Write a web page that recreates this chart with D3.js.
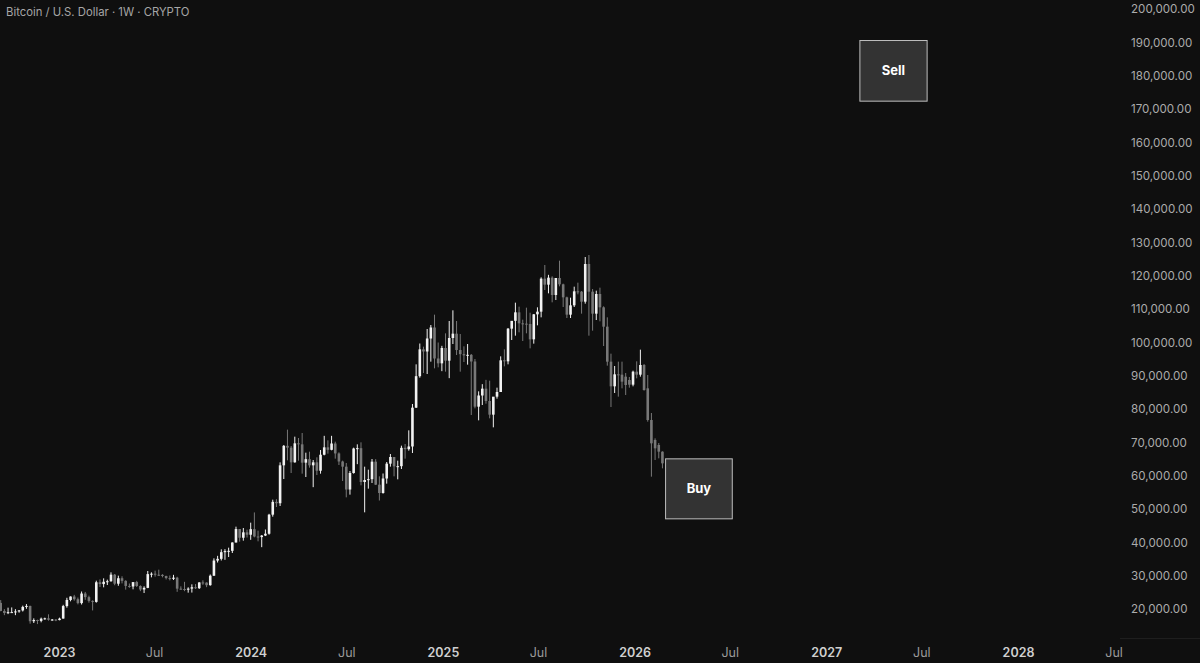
<!DOCTYPE html>
<html>
<head>
<meta charset="utf-8">
<script src="https://cdn.jsdelivr.net/npm/d3@7/dist/d3.min.js"></script>
<style>
  html, body { margin: 0; padding: 0; background: #0f0f0f; }
  svg { display: block; }
</style>
</head>
<body>
<svg id="chart" width="1200" height="663"></svg>
<script>
// ---------- DATA ----------
const title = "Bitcoin / U.S. Dollar · 1W · CRYPTO";
const firstWeek = "2022-09-12"; // weekly candles, consecutive weeks from here

const opens = [
21830,19420,18800,19050,19070,19270,19570,20630,20920,16330,16700,16430,17100,17200,16780,16840,
16680,17130,20880,22710,23740,22930,21770,24640,23560,22430,22130,28020,27480,28170,28330,30300,27590,29230,28440,26920,26750,28080,26900,25850,26340,30470,30590,30280,30240,29900,29280,29050,29400,26100,26000,25800,26110,26530,26250,27970,27920,27150,29990,34530,35050,37050,37380,37450,39950,43990,41380,43000,
42280,43950,41750,41580,42030,42580,48300,52140,51730,63100,68950,68400,64000,69700,69400,63900,64950,63100,64000,61480,66280,68500,67750,69650,66670,64250,62700,55850,60800,68150,68250,58100,58700,58950,64200,57300,54800,59150,63600,65600,62800,62850,68350,67950,68750,80400,89850,97900,97250,101150,104450,95150,93700,
98300,94500,101300,102600,97700,96450,96100,96250,94250,80700,84050,86100,82400,78300,83700,85100,94600,94300,104100,106450,109000,105700,105600,105500,100900,108400,109200,119100,117300,119400,114200,119300,117400,113500,108300,111100,115300,115200,112200,123500,115200,108600,114500,110500,104700,94200,86800,90400,90300,89700,88700,87300,
91200,90300,93200,86200,76700,70700,69200,67200
];
const highs = [
22680,19950,20400,20470,19950,19700,21000,21480,21000,17190,16800,17420,17400,18400,17000,16950,
17400,21250,23370,23800,24240,23430,25250,25120,24000,22600,28500,28870,29200,28800,31000,30500,30000,29820,28630,27650,27500,28440,27100,26800,31400,31000,31500,31800,30440,29990,30050,30250,29660,26800,28150,26500,27400,27480,28050,28600,27990,30350,35200,35950,37900,37950,38400,40000,44700,44000,44300,43800,
45900,48970,43500,42200,43850,48550,52800,52950,64000,69200,73800,68900,71700,71300,72800,66900,67200,64700,65500,67700,71950,70600,71950,70200,67000,64500,63800,61400,68400,69400,70000,62700,61800,65000,64950,59800,60650,64100,66500,65600,64500,69000,69500,73600,81500,93400,99650,98700,104000,105200,108300,99950,98950,
102700,106400,109600,106400,102500,98800,99500,96500,95000,85300,87450,88750,88500,83600,86400,95800,97900,104300,105800,111900,110700,106800,110400,108900,108500,110500,119500,123200,120250,119800,119300,124500,117600,113700,113400,116700,117900,115400,125600,126200,116000,115500,116400,110800,107500,96600,92900,94200,94200,90800,89600,91500,
94300,97800,93500,90200,78800,71200,69800,67300
];
const lows = [
19320,18150,18470,19000,18150,18900,19250,20060,15600,15800,15480,16000,16800,16500,16500,16350,
16600,17100,20400,22300,22500,21400,21350,22760,21900,19570,21900,26600,26500,27200,28170,27130,26970,27680,25810,26360,25900,26600,25350,24800,26250,29500,29700,29950,29500,28860,28580,28700,25150,25800,25350,24900,24930,26000,26000,27250,26550,26980,29900,33950,34550,34750,35600,36800,39950,40200,40500,41450,
40750,41500,40300,38550,41880,42300,47700,50600,50900,59000,64600,60800,63900,64500,60600,59600,62400,56550,60200,60600,66100,66600,67600,65100,63200,58400,53500,54300,60600,63450,57100,49000,56100,57800,57200,52550,54600,57600,62700,59800,58900,62000,65100,67500,66800,80300,89400,90800,90500,94200,92200,92500,91350,
91200,89250,99500,96200,91200,94100,93300,78200,80200,76600,81200,81600,77200,74500,83100,85100,92800,93400,100700,102000,103000,100400,102700,98200,99600,105100,107500,115700,114700,112000,112700,116800,110600,107300,107300,110600,114400,108600,111600,102000,103500,106700,106300,98900,93000,80600,84800,83700,86200,84200,86400,86800,
89200,89700,85500,76200,59700,64700,65200,62200
];
const closes = [
19420,18800,19050,19070,19270,19570,20630,20920,16330,16700,16430,17100,17200,16780,16840,16680,
17130,20880,22710,23740,22930,21770,24640,23560,22430,22130,28020,27480,28170,28330,30300,27590,29230,28440,26920,26750,28080,26900,25850,26340,30470,30590,30280,30240,29900,29280,29050,29400,26100,26000,25800,26110,26530,26250,27970,27920,27150,29990,34530,35050,37050,37380,37450,39950,43990,41380,43000,42280,
43950,41750,41580,42030,42580,48300,52140,51730,63100,68950,68400,64000,69700,69400,63900,64950,63100,64000,61480,66280,68500,67750,69650,66670,64250,62700,55850,60800,68150,68250,58100,58700,58950,64200,57300,54800,59150,63600,65600,62800,62850,68350,67950,68750,80400,89850,97900,97250,101150,104450,95150,93700,98300,
94500,101300,102600,97700,96450,96100,96250,94250,80700,84050,86100,82400,78300,83700,85100,94600,94300,104100,106450,109000,105700,105600,105500,100900,108400,109200,119100,117300,119400,114200,119300,117400,113500,108300,111100,115300,115200,112200,123500,115200,108600,114500,110500,104700,94200,86800,90400,90300,88200,87200,87300,91200,
90300,93200,85700,76700,69700,68200,67200,63700
];

const priceTicks = d3.range(20000, 200001, 10000);
const timeTicks = ["2023-01-01","2023-07-01","2024-01-01","2024-07-01","2025-01-01","2025-07-01",
                   "2026-01-01","2026-07-01","2027-01-01","2027-07-01","2028-01-01","2028-07-01"];

const zoneLabels = ["Buy", "Sell"];
const zoneStart  = ["2026-02-28", "2027-03-05"];
const zoneEnd    = ["2026-07-05", "2027-07-11"];
const zoneLow    = [47200, 172500];
const zoneHigh   = [65200, 190700];

// ---------- LAYOUT ----------
const W = 1200, H = 663;
const plotRight = 1120;
const svg = d3.select("#chart");
svg.append("rect").attr("width", W).attr("height", H).attr("fill", "#0f0f0f");

const parse = d3.utcParse("%Y-%m-%d");
const x = d3.scaleUtc()
  .domain([parse("2023-01-01"), parse("2028-01-01")])
  .range([59, 1018]);
x.domain([x.invert(0), x.invert(plotRight)]).range([0, plotRight]);

const y = d3.scaleLinear().domain([20000, 200000]).range([609, 9]);

const start = parse(firstWeek);
const candles = opens.map((o, i) => ({
  date: d3.utcWeek.offset(start, i),
  o, h: highs[i], l: lows[i], c: closes[i]
}));

const UP = "#f2f2f2", DOWN = "#787878";
const bodyW = 2.6;

const g = svg.append("g");
const cg = g.selectAll("g.c").data(candles).join("g").attr("class", "c");
cg.append("line")
  .attr("x1", d => x(d.date)).attr("x2", d => x(d.date))
  .attr("y1", d => y(d.h)).attr("y2", d => y(d.l))
  .attr("stroke", d => d.c >= d.o ? UP : DOWN)
  .attr("stroke-width", 1);
cg.append("rect")
  .attr("x", d => x(d.date) - bodyW / 2)
  .attr("width", bodyW)
  .attr("y", d => y(Math.max(d.o, d.c)))
  .attr("height", d => Math.max(1, Math.abs(y(d.o) - y(d.c))))
  .attr("fill", d => d.c >= d.o ? UP : DOWN);

// ---------- ZONES ----------
const zones = zoneLabels.map((t, i) => ({
  t, s: parse(zoneStart[i]), e: parse(zoneEnd[i]), lo: zoneLow[i], hi: zoneHigh[i]
}));
const zg = svg.append("g").selectAll("g").data(zones).join("g");
zg.append("rect")
  .attr("x", d => x(d.s) + 0.5)
  .attr("y", d => y(d.hi) + 0.5)
  .attr("width", d => x(d.e) - x(d.s))
  .attr("height", d => y(d.lo) - y(d.hi))
  .attr("fill", "#333333")
  .attr("stroke", "#bdbdbd")
  .attr("stroke-width", 1);
zg.append("text")
  .attr("x", d => (x(d.s) + x(d.e)) / 2 + 0.5)
  .attr("y", d => (y(d.hi) + y(d.lo)) / 2)
  .attr("dy", "0.35em")
  .attr("text-anchor", "middle")
  .attr("fill", "#ffffff")
  .attr("font-family", "Inter, 'Noto Sans', sans-serif")
  .attr("font-weight", 700)
  .attr("font-size", 13)
  .text(d => d.t);

// ---------- AXES ----------
const fmt = d3.format(",.2f");
const yAxis = svg.append("g")
  .attr("transform", `translate(${1130},0)`)
  .call(d3.axisRight(y).tickValues(priceTicks).tickFormat(fmt).tickSize(0).tickPadding(1));
yAxis.select(".domain").remove();
yAxis.selectAll("text")
  .attr("fill", "#ababab")
  .attr("font-family", "Inter, 'Noto Sans', sans-serif")
  .attr("font-size", 11.6);

const tDates = timeTicks.map(parse);
const xAxis = svg.append("g")
  .attr("transform", `translate(0,${648})`)
  .call(d3.axisBottom(x).tickValues(tDates).tickSize(0).tickPadding(0)
    .tickFormat(d => d.getUTCMonth() === 0 ? d3.utcFormat("%Y")(d) : "Jul"));
xAxis.select(".domain").remove();
xAxis.selectAll("text")
  .attr("dy", "0.71em")
  .attr("font-family", "Inter, 'Noto Sans', sans-serif")
  .attr("font-size", 12.5)
  .attr("font-weight", d => d.getUTCMonth() === 0 ? 600 : 400)
  .attr("fill", d => d.getUTCMonth() === 0 ? "#cfcfcf" : "#9a9a9a");

// separator between price scale and time scale
svg.append("line")
  .attr("x1", plotRight).attr("x2", W)
  .attr("y1", 638.5).attr("y2", 638.5)
  .attr("stroke", "#1e1e1e");

// ---------- TITLE ----------
svg.append("text")
  .attr("x", 6).attr("y", 16)
  .attr("fill", "#a6a6a6")
  .attr("font-family", "Inter, 'Noto Sans', sans-serif")
  .attr("font-size", 11.3)
  .text(title);
</script>
</body>
</html>
